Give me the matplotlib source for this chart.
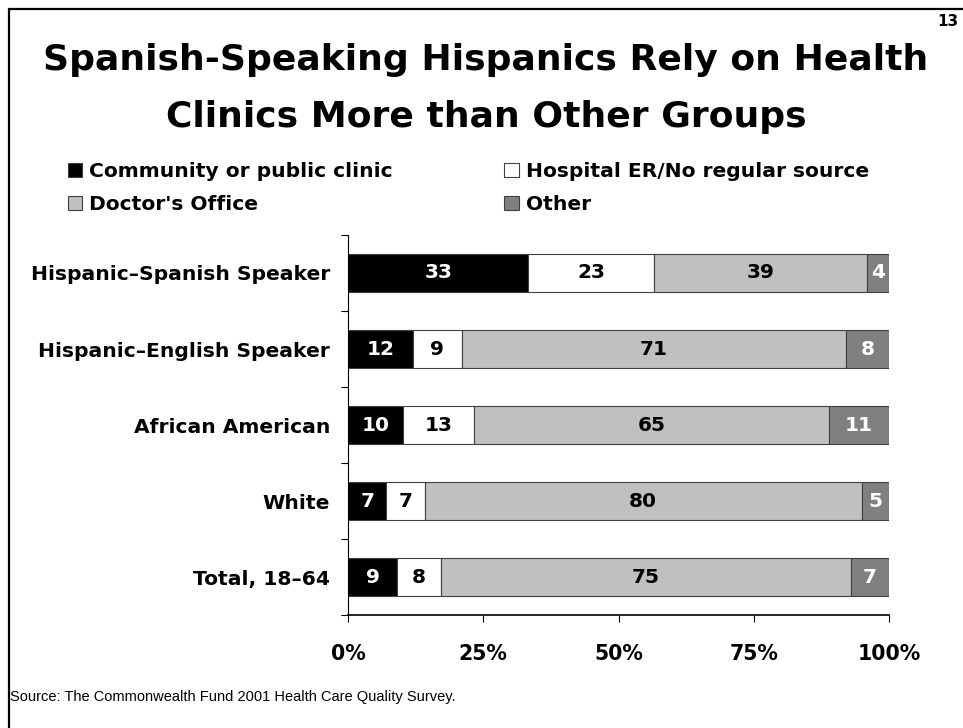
"""Stacked bar chart: usual source of care by ethnicity / language group."""

import numpy as np
import matplotlib

matplotlib.use("Agg")
import matplotlib.pyplot as plt
from matplotlib.patches import Patch, Rectangle

plt.rcParams["font.family"] = ["Liberation Sans", "DejaVu Sans"]
HEAVY = ["DejaVu Sans"]

groups = [
    "Hispanic\u2013Spanish Speaker",
    "Hispanic\u2013English Speaker",
    "African American",
    "White",
    "Total, 18\u201364",
]
series_names = [
    "Community or public clinic",
    "Hospital ER/No regular source",
    "Doctor's Office",
    "Other",
]
clinic = [33, 12, 10, 7, 9]
hospital_er = [23, 9, 13, 7, 8]
doctor = [39, 71, 65, 80, 75]
other = [4, 8, 11, 5, 7]

series_colors = ["#000000", "#FFFFFF", "#C0C0C0", "#808080"]
label_colors = ["white", "black", "black", "white"]
x_ticks = [0, 25, 50, 75, 100]
x_tick_labels = ["0%", "25%", "50%", "75%", "100%"]

title_lines = ["Spanish-Speaking Hispanics Rely on Health",
               "Clinics More than Other Groups"]
source = "Source: The Commonwealth Fund 2001 Health Care Quality Survey."
page_number = "13"


def px_x(x):
    return x / 963


def px_y(y):
    return 1 - y / 728


def main() -> None:
    values = np.array([clinic, hospital_er, doctor, other], dtype=float)
    shares = values / values.sum(axis=0) * 100.0

    fig = plt.figure(figsize=(9.63, 7.28), dpi=100)
    ax = fig.add_axes([0.3614, 0.1552, 0.5618, 0.522])

    y = np.arange(len(groups))
    left = np.zeros(len(groups))
    for i in range(len(series_names)):
        ax.barh(y, shares[i], left=left, height=0.5, color=series_colors[i],
                edgecolor="#404040", linewidth=0.8)
        for j in range(len(groups)):
            ax.text(left[j] + shares[i][j] / 2, y[j], f"{int(values[i][j])}",
                    ha="center", va="center", color=label_colors[i],
                    fontsize=14.5, fontweight="bold", family=HEAVY)
        left += shares[i]

    ax.set_xlim(0, 100)
    ax.set_ylim(len(groups) - 0.5, -0.5)
    ax.set_xticks(x_ticks)
    ax.set_xticklabels(x_tick_labels, fontsize=14.8, fontweight="bold", family=HEAVY)
    ax.tick_params(axis="x", length=5, width=0.8, pad=16, direction="out")

    # category labels at bar centres, tick marks between the bars
    ax.set_yticks(y)
    ax.set_yticklabels(groups, fontsize=14.6, fontweight="bold", family=HEAVY)
    ax.tick_params(axis="y", which="major", length=0, pad=13)
    ax.set_yticks(np.arange(len(groups) + 1) - 0.5, minor=True)
    ax.tick_params(axis="y", which="minor", length=5, width=0.8, direction="out")

    for side in ("top", "right"):
        ax.spines[side].set_visible(False)
    ax.spines["left"].set_linewidth(0.8)
    ax.spines["bottom"].set_linewidth(1.2)

    for k, line in enumerate(title_lines):
        fig.text(px_x(486), px_y(60 + 57 * k), line, ha="center", va="center",
                 fontsize=26, fontweight="bold", family=HEAVY)
    fig.text(px_x(958), px_y(22), page_number, ha="right", va="center",
             fontsize=11, fontweight="bold", family=HEAVY)
    fig.text(px_x(10), px_y(697), source, ha="left", va="center", fontsize=10.5)

    handles = [Patch(facecolor=c, edgecolor="#404040", linewidth=0.8)
               for c in series_colors]
    order = [0, 2, 1, 3]
    fig.legend([handles[k] for k in order], [series_names[k] for k in order],
               ncol=2, loc="upper left", bbox_to_anchor=(px_x(68), px_y(162)),
               frameon=False, prop={"size": 14.6, "weight": "bold", "family": HEAVY},
               handlelength=0.7, handleheight=0.7, handletextpad=0.35,
               columnspacing=5.5, labelspacing=0.7, borderaxespad=0,
               borderpad=0)

    fig.patches.append(Rectangle((0.0095, -0.1), 1.2, 1.088, transform=fig.transFigure,
                                 fill=False, edgecolor="black", linewidth=1.6))

    fig.savefig("out.png", dpi=100)
    plt.close(fig)


if __name__ == "__main__":
    main()
